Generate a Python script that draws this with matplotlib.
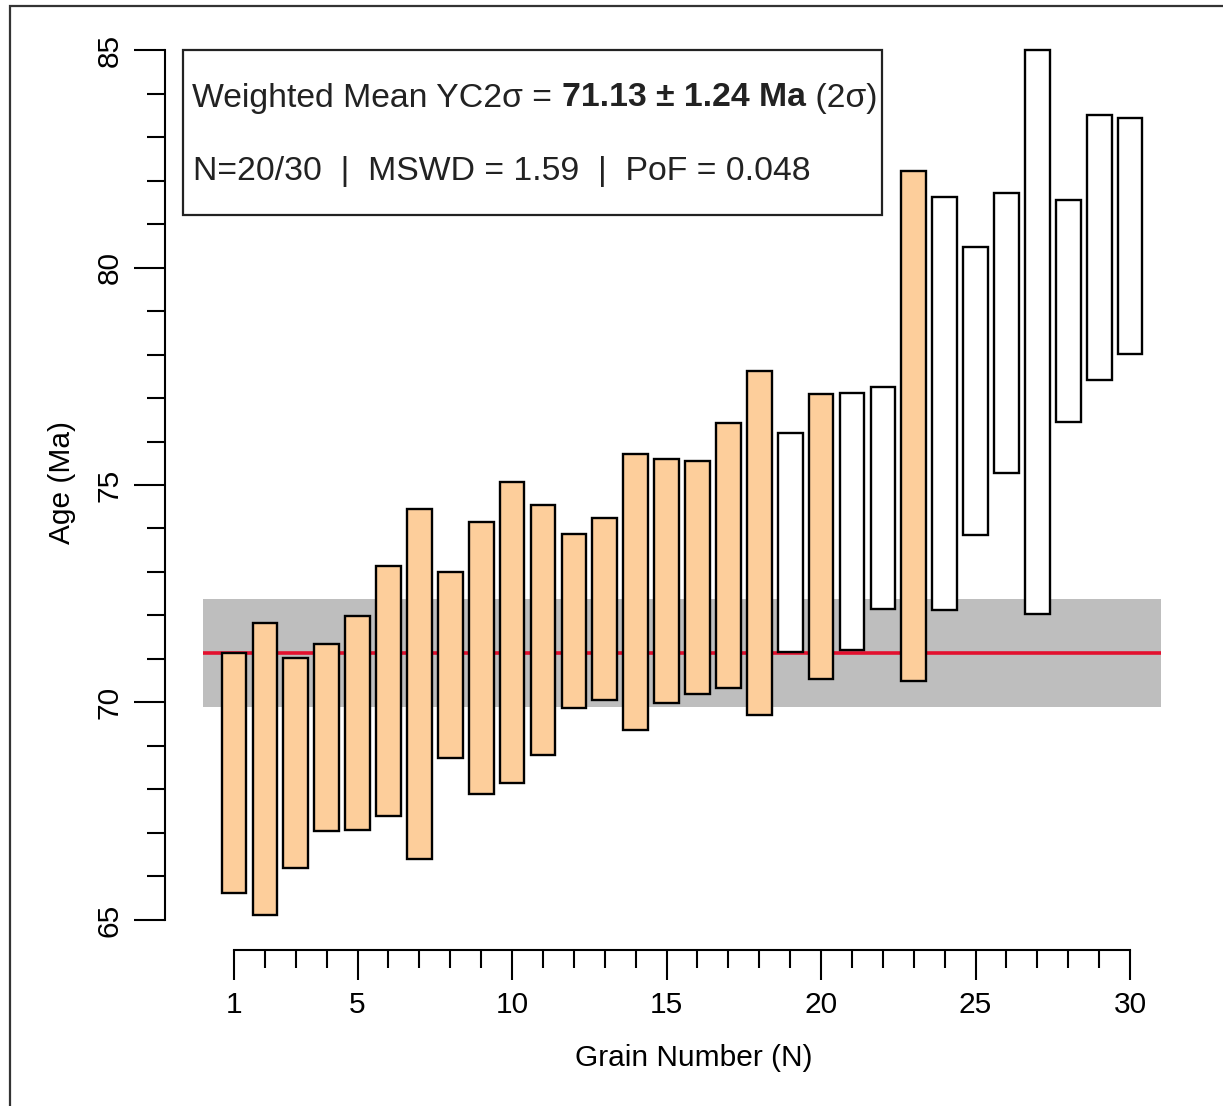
import matplotlib
matplotlib.use("Agg")
import matplotlib.pyplot as plt
from matplotlib.patches import Rectangle
from matplotlib.ticker import FixedLocator

plt.rcParams['font.family'] = ['Liberation Sans', 'DejaVu Sans']

# ---------------- data ----------------
grain = list(range(1, 31))
age_top = [71.14, 71.83, 71.02, 71.34, 71.99, 73.14, 74.45, 73.00, 74.15, 75.07,
           74.54, 73.87, 74.24, 75.71, 75.60, 75.55, 76.43, 77.62, 76.20, 77.09,
           77.11, 77.25, 82.22, 81.62, 80.47, 81.71, 85.00, 81.55, 83.51, 83.44]
age_bottom = [65.62, 65.11, 66.20, 67.05, 67.07, 67.39, 66.40, 68.72, 67.90, 68.15,
              68.79, 69.87, 70.06, 69.37, 69.99, 70.20, 70.33, 69.71, 71.16, 70.54,
              71.21, 72.15, 70.49, 72.13, 73.85, 75.28, 72.03, 76.45, 77.41, 78.01]
included = [1]*18 + [0, 1, 0, 0, 1] + [0]*7
wm_age = 71.13
wm_err = 1.24
mswd = 1.59
pof = 0.048
n_used, n_total = 20, 30
x_major = [1, 5, 10, 15, 20, 25, 30]
y_major = [65, 70, 75, 80, 85]

W, H = 1223, 1106
fig = plt.figure(figsize=(W/100, H/100), dpi=100)

def fx(px):
    return px / W

def fy(py):
    return 1 - py / H

# axes placed in pixel coordinates
ax_l, ax_r, ax_t, ax_b = 165, 1199, 15, 950
ax = fig.add_axes([fx(ax_l), fy(ax_b), (ax_r-ax_l)/W, (ax_b-ax_t)/H])
ax.set_xlim(-1.233, 32.23)
ax.set_ylim(64.31, 85.805)

# band + mean line
ax.fill_between([0, 31], wm_age - wm_err, wm_age + wm_err, color='#BEBEBE', lw=0, zorder=1)
ax.plot([0, 31], [wm_age, wm_age], color='#E3102E', lw=2.6, zorder=2, solid_capstyle='butt')

colors = ['#FDCE9B' if inc else 'white' for inc in included]
heights = [t - b for t, b in zip(age_top, age_bottom)]
ax.bar(grain, heights, bottom=age_bottom, width=0.8, color=colors,
       edgecolor='black', linewidth=1.7, zorder=3)

# spines
for s in ['top', 'right']:
    ax.spines[s].set_visible(False)
ax.spines['left'].set_bounds(y_major[0], y_major[-1])
ax.spines['bottom'].set_bounds(grain[0], grain[-1])
for s in ['left', 'bottom']:
    ax.spines[s].set_linewidth(1.5)

ax.yaxis.set_major_locator(FixedLocator(y_major))
ax.yaxis.set_minor_locator(FixedLocator([v for v in range(y_major[0], y_major[-1] + 1) if v not in y_major]))
ax.xaxis.set_major_locator(FixedLocator(x_major))
ax.xaxis.set_minor_locator(FixedLocator([g for g in grain if g not in x_major]))

ax.tick_params(axis='both', which='major', direction='out', width=1.5, labelsize=21.5)
ax.tick_params(axis='both', which='minor', direction='out', width=1.5, length=13)
ax.tick_params(axis='y', which='major', length=22.3, pad=7.5)
ax.tick_params(axis='x', which='major', length=21.6, pad=8)
for lbl in ax.get_yticklabels():
    lbl.set_rotation(90)
    lbl.set_va('center')
    lbl.set_ha('right')

# axis labels
fig.text(fx(62), fy(482), 'Age (Ma)', rotation=90, ha='center', va='center', fontsize=21.5)
fig.text(fx(694), fy(1066), 'Grain Number (N)', ha='center', va='baseline', fontsize=21.5)

# stats box
bx0, by0, bx1, by1 = 183, 50, 882, 215
fig.patches.append(Rectangle((fx(bx0), fy(by1)), (bx1-bx0)/W, (by1-by0)/H,
                             transform=fig.transFigure, fill=False,
                             edgecolor='#222222', linewidth=1.6, zorder=5))
fs_box = 24.3
pieces = [('Weighted Mean YC2σ = ', 'normal'),
          (f'{wm_age:.2f} ± {wm_err:.2f} Ma', 'bold'),
          (' (2σ)', 'normal')]
fig.canvas.draw()
renderer = fig.canvas.get_renderer()
xcur = 192.5
for txt, wt in pieces:
    t = fig.text(fx(xcur), fy(106.5), txt, ha='left', va='baseline',
                 fontsize=fs_box, fontweight=wt, color='#222222')
    bb = t.get_window_extent(renderer=renderer)
    xcur += bb.width
line2 = f'N={n_used}/{n_total}  |  MSWD = {mswd:.2f}  |  PoF = {pof:.3f}'
fig.text(fx(193), fy(180), line2, ha='left', va='baseline', fontsize=fs_box, color='#222222')

# outer frame (only left and top visible)
fig.patches.append(Rectangle((fx(10), fy(1200)), (1400)/W, (1200-6)/H,
                             transform=fig.transFigure, fill=False,
                             edgecolor='#333333', linewidth=1.6, zorder=10))

fig.savefig('out.png', dpi=100)
